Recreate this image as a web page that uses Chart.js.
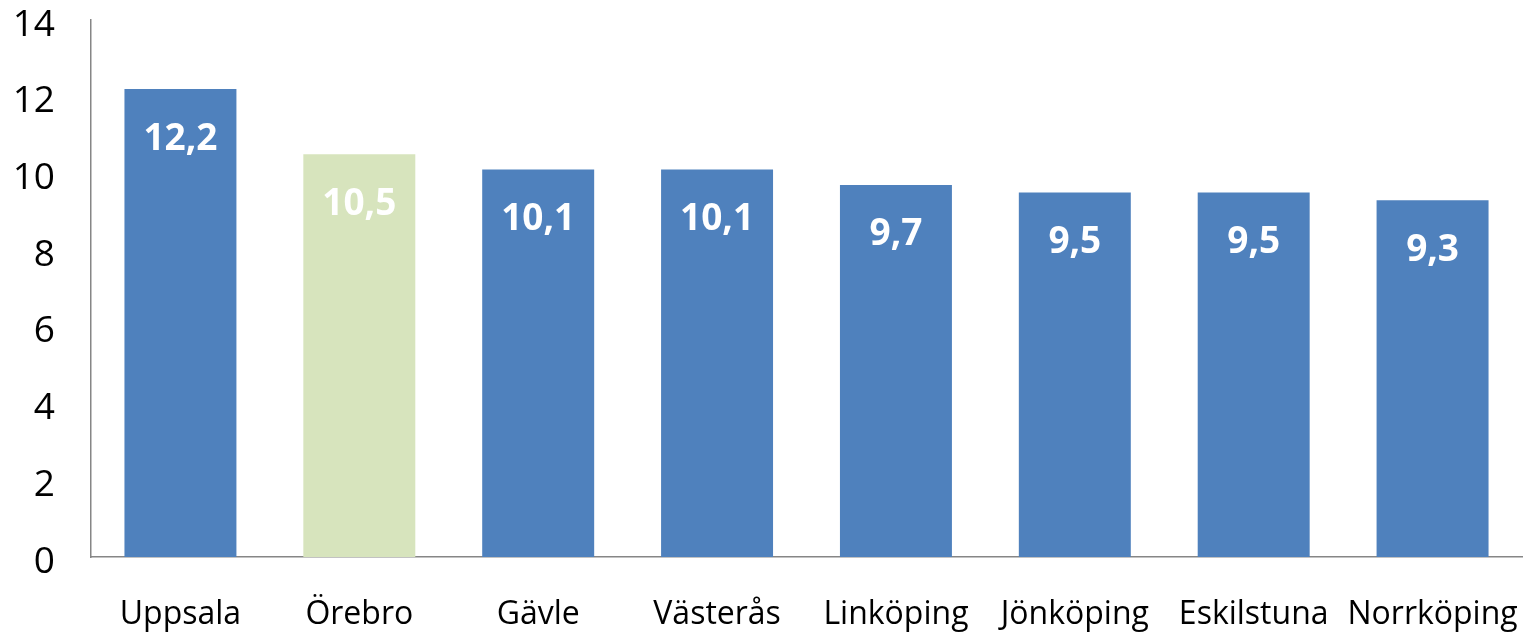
<!DOCTYPE html>
<html>
<head>
<meta charset="utf-8">
<script src="https://cdn.jsdelivr.net/npm/chart.js@4/dist/chart.umd.min.js"></script>
<style>
  html, body { margin: 0; padding: 0; background: #ffffff; }
  #wrap { width: 1525px; height: 634px; position: relative; }
</style>
</head>
<body>
<div id="wrap"><canvas id="c" width="1525" height="634"></canvas></div>
<script>
const categories = ["Uppsala", "Örebro", "Gävle", "Västerås", "Linköping", "Jönköping", "Eskilstuna", "Norrköping"];
const values = [12.2, 10.5, 10.1, 10.1, 9.7, 9.5, 9.5, 9.3];
const highlightCity = "Örebro";
const yTicks = [0, 2, 4, 6, 8, 10, 12, 14];

const BLUE = "#4F81BD";
const GREEN = "#D7E4BD";

const barLabels = {
  id: "barLabels",
  afterDatasetsDraw(chart) {
    const ctx = chart.ctx;
    const meta = chart.getDatasetMeta(0);
    ctx.save();
    ctx.font = "bold 37px 'Open Sans', sans-serif";
    ctx.fillStyle = "#ffffff";
    ctx.textAlign = "center";
    ctx.textBaseline = "middle";
    meta.data.forEach((bar, i) => {
      const txt = values[i].toFixed(1).replace(".", ",");
      ctx.fillText(txt, bar.x, bar.y + 50);
    });
    ctx.restore();
  }
};

new Chart(document.getElementById("c"), {
  type: "bar",
  data: {
    labels: categories,
    datasets: [{
      data: values,
      backgroundColor: categories.map(c => c === highlightCity ? GREEN : BLUE),
      borderWidth: 0,
      barPercentage: 0.626,
      categoryPercentage: 1.0
    }]
  },
  options: {
    responsive: false,
    animation: false,
    devicePixelRatio: 1,
    layout: { padding: { top: 20, right: 3, left: 0, bottom: 0 } },
    plugins: { legend: { display: false }, tooltip: { enabled: false } },
    scales: {
      x: {
        grid: { display: false, drawTicks: false },
        border: { display: true, color: "#868686", width: 1.5 },
        ticks: {
          color: "#000000",
          font: { family: "'Open Sans', sans-serif", size: 32 },
          padding: 39,
          maxRotation: 0,
          autoSkip: false
        },
        afterFit(scale) {
          scale.height = 77;
          scale.paddingLeft = 0; scale.paddingRight = 0;
          scale.paddingTop = 0; scale.paddingBottom = 0;
        }
      },
      y: {
        min: 0,
        max: 14,
        afterBuildTicks(scale) { scale.ticks = yTicks.map(v => ({ value: v })); },
        grid: { display: false, drawTicks: false },
        border: { display: true, color: "#868686", width: 1.5 },
        ticks: {
          color: "#000000",
          font: { family: "'Open Sans', sans-serif", size: 37 },
          padding: 36,
          labelOffset: 5
        },
        afterFit(scale) {
          scale.width = 91;
          scale.paddingLeft = 0; scale.paddingRight = 0;
          scale.paddingTop = 0; scale.paddingBottom = 0;
        }
      }
    }
  },
  plugins: [barLabels]
});
</script>
</body>
</html>
